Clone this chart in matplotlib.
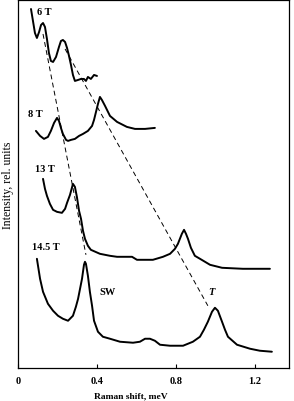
import matplotlib
matplotlib.use("Agg")
import matplotlib.pyplot as plt

# Raman shift (meV) and intensity (rel. units) for each field
x_6T = [0.065, 0.075, 0.085, 0.095, 0.106, 0.116, 0.126, 0.136, 0.146, 0.156, 0.166, 0.177, 0.192,
        0.207, 0.217, 0.227, 0.238, 0.248, 0.258, 0.268, 0.278, 0.288, 0.304, 0.319, 0.334, 0.344,
        0.354, 0.369, 0.385, 0.400]
y_6T = [359, 347, 335, 330, 336, 343, 345, 341, 329, 315, 307, 306, 311,
        321, 327, 328, 326, 320, 312, 303, 293, 287, 288, 289, 289, 287,
        291, 289, 293, 292]

x_8T = [0.090, 0.111, 0.131, 0.151, 0.166, 0.182, 0.197, 0.207, 0.217, 0.227, 0.243, 0.253, 0.268,
        0.288, 0.309, 0.329, 0.354, 0.375, 0.385, 0.395, 0.405, 0.415, 0.425, 0.441, 0.466, 0.502,
        0.552, 0.593, 0.644, 0.694]
y_8T = [237, 232, 229, 231, 237, 245, 250, 247, 240, 234, 228, 227, 228,
        229, 232, 234, 237, 242, 248, 256, 264, 271, 268, 262, 252, 246,
        241, 239, 239, 240]

x_13T = [0.126, 0.136, 0.146, 0.161, 0.177, 0.197, 0.222, 0.238, 0.248, 0.263, 0.278, 0.288, 0.298,
         0.309, 0.319, 0.329, 0.339, 0.354, 0.369, 0.415, 0.466, 0.502, 0.552, 0.578, 0.603, 0.644,
         0.684, 0.735, 0.771, 0.796, 0.811, 0.821, 0.831, 0.842, 0.852, 0.862, 0.877, 0.897, 0.923,
         0.974, 1.035, 1.141, 1.278]
y_13T = [189, 179, 172, 164, 158, 156, 155, 159, 165, 173, 184, 181, 171,
         157, 149, 137, 129, 122, 118, 114, 112, 111, 111, 111, 108, 108,
         108, 111, 114, 119, 124, 129, 134, 138, 134, 129, 120, 112, 109,
         103, 100, 99, 99]

x_145T = [0.095, 0.111, 0.126, 0.151, 0.177, 0.202, 0.227, 0.253, 0.278, 0.293, 0.304, 0.314, 0.324,
          0.334, 0.339, 0.344, 0.354, 0.364, 0.375, 0.385, 0.405, 0.430, 0.466, 0.517, 0.583, 0.618,
          0.644, 0.669, 0.694, 0.720, 0.771, 0.837, 0.887, 0.923, 0.943, 0.963, 0.984, 0.999, 1.014,
          1.035, 1.050, 1.065, 1.111, 1.177, 1.227, 1.288]
y_145T = [109, 89, 76, 64, 57, 52, 49, 47, 52, 61, 69, 79, 89,
          103, 106, 104, 92, 76, 62, 47, 36, 31, 29, 26, 25, 26,
          29, 29, 27, 23, 22, 22, 26, 31, 38, 46, 56, 60, 57,
          46, 38, 31, 23, 19, 17, 16]

# dashed guide lines through peak positions
sw_line_x = [0.126, 0.344]
sw_line_y = [334, 113]
t_line_x = [0.238, 0.963]
t_line_y = [319, 62]

xticks = [0, 0.4, 0.8, 1.2]
xtick_labels = ["0", "0.4", "0.8", "1.2"]

serif = ["Liberation Serif", "DejaVu Serif"]

fig = plt.figure(figsize=(2.94, 4.02), dpi=100)
ax = fig.add_axes([0.0619, 0.0828, 0.9211, 0.9147])

for xs, ys in [(x_6T, y_6T), (x_8T, y_8T), (x_13T, y_13T), (x_145T, y_145T)]:
    ax.plot(xs, ys, color="black", lw=1.4, solid_joinstyle="round", solid_capstyle="round")

for xs, ys in [(sw_line_x, sw_line_y), (t_line_x, t_line_y)]:
    ax.plot(xs, ys, color="black", lw=0.7, dashes=(5, 3.5))

ax.set_xlim(0, 1.375)
ax.set_ylim(0, 368)
ax.set_xticks(xticks)
ax.set_xticklabels(xtick_labels, family=serif, fontsize=7.5, fontweight="bold")
ax.set_yticks([])
ax.tick_params(axis="x", direction="in", length=3, width=0.8, pad=6, top=False)
for s in ax.spines.values():
    s.set_linewidth(0.9)

ax.set_xlabel("Raman shift, meV", family=serif, fontsize=6.8, fontweight="bold", labelpad=3)
ax.xaxis.set_label_coords(0.417, -0.065)
ax.set_ylabel("Intensity, rel. units", family=serif, fontsize=8.5, labelpad=3)

lab = dict(family=serif, fontsize=7.5, fontweight="bold", va="center")
ax.text(0.095, 356, "6 T", ha="left", **lab)
ax.text(0.050, 254, "8 T", ha="left", **lab)
ax.text(0.085, 199, "13 T", ha="left", **lab)
ax.text(0.070, 121, "14.5 T", ha="left", **lab)
ax.text(0.415, 76, "SW", ha="left", **lab)
ax.text(0.979, 76, "T", ha="center", family=serif, fontsize=7.5, fontweight="bold",
        fontstyle="italic", va="center")

fig.savefig("out.png", dpi=100)
